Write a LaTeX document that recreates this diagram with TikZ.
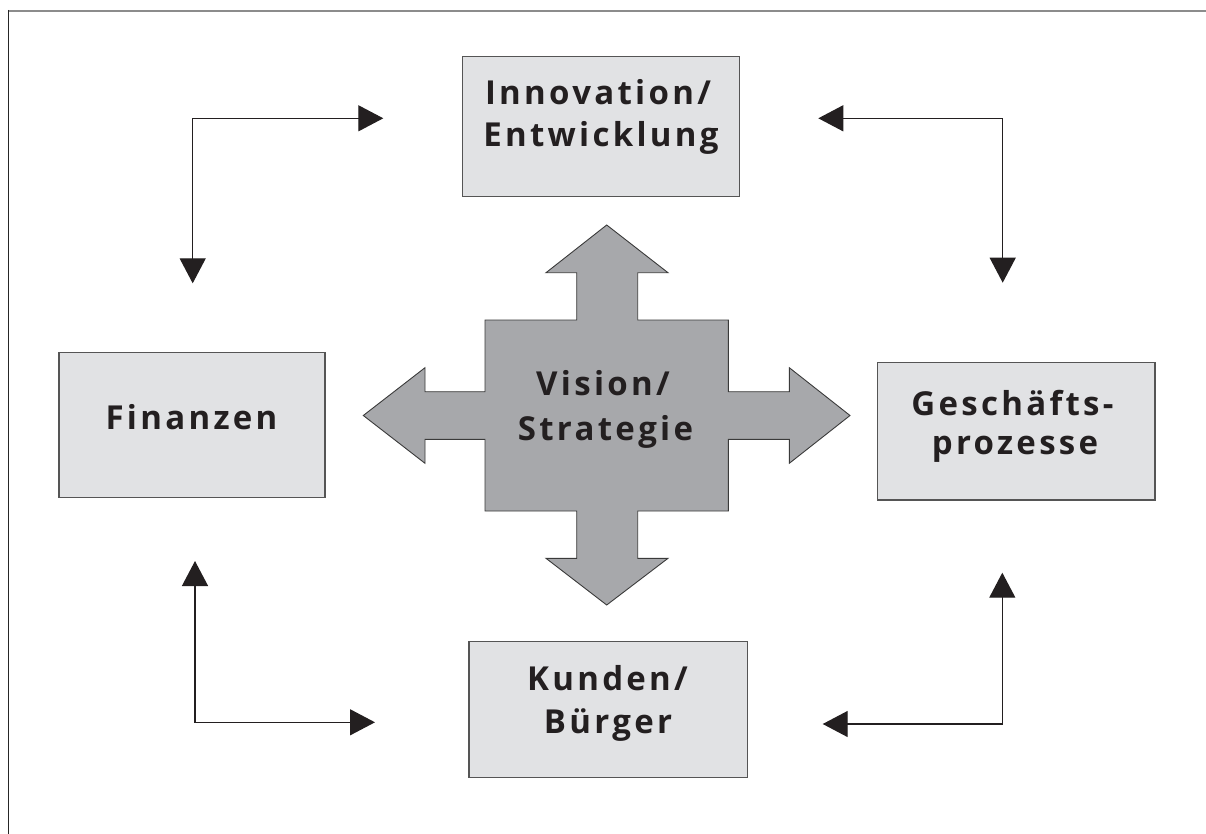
\documentclass[tikz,border=0pt]{standalone}
\usepackage{fontspec}
\newfontfamily\lblfont[LetterSpace=10]{Open Sans}
\usetikzlibrary{arrows.meta}
\definecolor{boxfill}{HTML}{E1E2E4}
\definecolor{boxline}{HTML}{555555}
\definecolor{starfill}{HTML}{A7A8AB}
\definecolor{starline}{HTML}{3A3A3A}
\definecolor{txt}{HTML}{231F20}
\begin{document}
\begin{tikzpicture}[x=1pt,y=-1pt,
  lbl/.style={font=\lblfont\bfseries\fontsize{33}{42}\selectfont, text=txt, anchor=base, inner sep=0pt},
  boxnode/.style={draw=boxline, fill=boxfill, line width=1.3pt, inner sep=0pt},
  conn/.style={draw=txt, line width=1.3pt, {Triangle[length=25pt,width=26pt]}-{Triangle[length=25pt,width=26pt]}}
]
\useasboundingbox (0,0) rectangle (1206,834);
% frame
\draw[line width=2.5pt, draw=gray!90] (8,11) -- (1206,11);
\draw[line width=1.6pt, draw=black!85] (8.5,10) -- (8.5,834);

% boxes
\node[boxnode, minimum width=276.6pt, minimum height=140pt] (inno) at (601,126.7) {};
\node[boxnode, minimum width=266pt, minimum height=144.6pt] (fin) at (192,425) {};
\node[boxnode, minimum width=277.7pt, minimum height=137.3pt] (gesch) at (1016.2,431.3) {};
\node[boxnode, minimum width=278.3pt, minimum height=136pt] (kund) at (608.2,709.7) {};

% box texts
\node[lbl] (inno1) at (598,105) {Innovation/};
\node[lbl] (inno2) at (601,146.7) {Entwicklung};
\node[lbl] (fin1) at (191.5,429) {Finanzen};
\node[lbl] (gesch1) at (1012.5,415) {Geschäfts-};
\node[lbl] (gesch2) at (1015,454) {prozesse};
\node[lbl] (kund1) at (607.5,690) {Kunden/};
\node[lbl] (kund2) at (608,733.3) {Bürger};

% central star
\coordinate (c) at (606.7,415.5);
\filldraw[fill=starfill, draw=starline, line width=0.9pt]
  (606.7,225) -- (668,272.7) -- (637.7,272.7) -- (637.7,320) -- (728.3,320)
  -- (728.3,391.7) -- (789.3,391.7) -- (789.3,367.7) -- (850,415.5) -- (789.3,463.3) -- (789.3,439.3) -- (728.3,439.3)
  -- (728.3,511) -- (637.7,511) -- (637.7,558.3) -- (668,558.3) -- (606.7,605) -- (546,558.3) -- (576.7,558.3) -- (576.7,511)
  -- (485,511) -- (485,439.3) -- (425,439.3) -- (425,463.3) -- (363.3,415.5) -- (425,367.7) -- (425,391.7) -- (485,391.7)
  -- (485,320) -- (576.7,320) -- (576.7,272.7) -- (546,272.7) -- cycle;
\node[lbl] (vis1) at (603,395) {Vision/};
\node[lbl] (vis2) at (605.5,440) {Strategie};

% connectors
\coordinate (tlA) at (383.3,118.3);
\coordinate (tlC) at (192.7,118.3);
\coordinate (tlB) at (192.7,283.3);
\coordinate (trA) at (818.3,118.3);
\coordinate (trC) at (1002.7,118.3);
\coordinate (trB) at (1002.7,282.7);
\coordinate (blA) at (195,561);
\coordinate (blC) at (195,722.3);
\coordinate (blB) at (375,722.3);
\coordinate (brA) at (1002.3,572.7);
\coordinate (brC) at (1002.3,724);
\coordinate (brB) at (822.7,724);
\draw[conn] (tlA) -- (tlC) -- (tlB);
\draw[conn] (trA) -- (trC) -- (trB);
\draw[conn] (blA) -- (blC) -- (blB);
\draw[conn] (brA) -- (brC) -- (brB);
\end{tikzpicture}
\end{document}
